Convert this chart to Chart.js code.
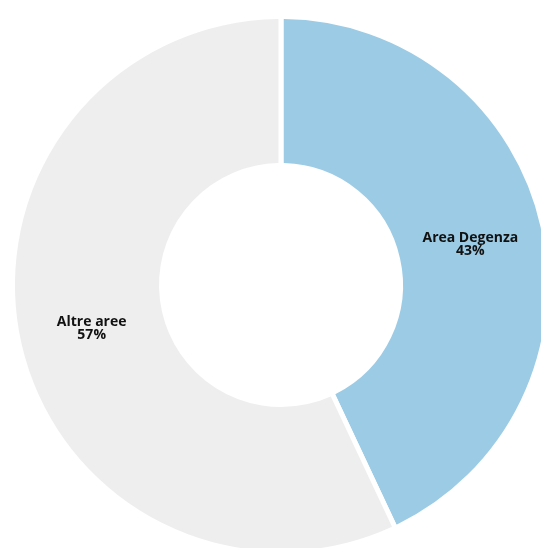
<!DOCTYPE html>
<html><head><meta charset="utf-8">
<script src="https://cdn.jsdelivr.net/npm/chart.js@4"></script>
<style>
html,body{margin:0;padding:0;background:#fff;overflow:hidden;width:541px;height:548px;}
#wrap{position:absolute;left:0;top:0;width:562px;height:570px;}
</style></head><body>
<div id="wrap"><canvas id="c" width="562" height="570"></canvas></div>
<script>
const categories = ["Area Degenza", "Altre aree"];
const values = [43, 57];
const valueLabels = ["43%", "57%"];
const colors = ["#9ccbe5", "#eeeeee"];

const labelPlugin = {
  id: 'sliceLabels',
  afterDatasetsDraw(chart) {
    const ctx = chart.ctx;
    const meta = chart.getDatasetMeta(0);
    ctx.save();
    ctx.font = "bold 14px 'Open Sans', 'Liberation Sans', sans-serif";
    ctx.fillStyle = "#111";
    ctx.textAlign = "center";
    ctx.textBaseline = "middle";
    meta.data.forEach((arc, i) => {
      const p = arc.tooltipPosition();
      ctx.fillText(categories[i], p.x, p.y - 5);
      ctx.fillText(valueLabels[i], p.x, p.y + 8);
    });
    ctx.restore();
  }
};

new Chart(document.getElementById('c'), {
  type: 'doughnut',
  data: {
    labels: categories,
    datasets: [{
      data: values,
      backgroundColor: colors,
      borderColor: '#ffffff',
      borderWidth: 5,
      borderRadius: 3,
      hoverOffset: 0
    }]
  },
  options: {
    responsive: false,
    animation: false,
    cutout: '44.5%',
    layout: { padding: 10 },
    plugins: { legend: { display: false }, tooltip: { enabled: false } }
  },
  plugins: [labelPlugin]
});
</script>
</body></html>
